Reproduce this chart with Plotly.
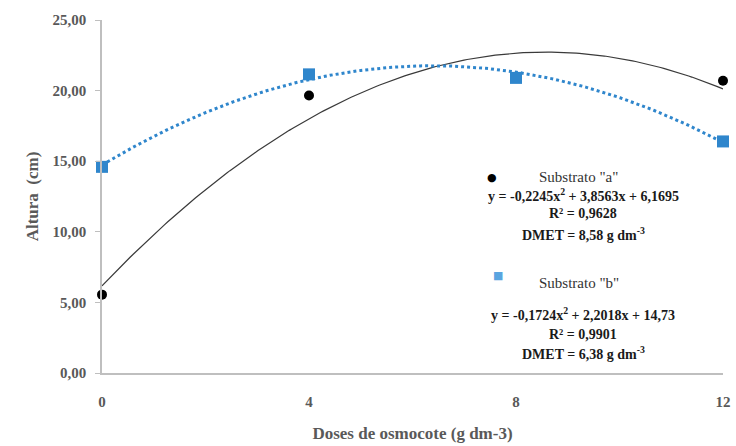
import numpy as np
import plotly.graph_objects as go

# Doses of osmocote (g dm-3)
doses = [0, 4, 8, 12]

# Mean plant height (cm) per substrate
altura_a = [5.55, 19.65, 20.95, 20.7]
altura_b = [14.6, 21.15, 20.9, 16.4]

# Quadratic fit coefficients (c2, c1, c0)
coef_a = [-0.2245, 3.8563, 6.1695]
coef_b = [-0.1724, 2.2018, 14.73]

y_ticks = [0, 5, 10, 15, 20, 25]
y_tick_labels = ["0,00", "5,00", "10,00", "15,00", "20,00", "25,00"]
x_ticks = [0, 4, 8, 12]

xs = np.linspace(0, 12, 200)
fit_a = np.polyval(coef_a, xs)
fit_b = np.polyval(coef_b, xs)

serif = "Liberation Serif"
gray = "#595959"
blue = "#2f86cc"

W, H = 736, 446
ML, MR, MT, MB = 102, 13, 20, 73
PW, PH = W - ML - MR, H - MT - MB


def px_to_paper(px, py):
    return (px - ML) / PW, (H - MB - py) / PH


fig = go.Figure()
fig.add_trace(go.Scatter(x=xs, y=fit_a, mode="lines",
                         line=dict(color="#3a3a3a", width=1.2), hoverinfo="skip"))
fig.add_trace(go.Scatter(x=xs, y=fit_b, mode="lines",
                         line=dict(color=blue, width=3, dash="dot"), hoverinfo="skip"))
fig.add_trace(go.Scatter(x=doses, y=altura_a, mode="markers", cliponaxis=False,
                         marker=dict(color="black", size=10, symbol="circle")))
fig.add_trace(go.Scatter(x=doses, y=altura_b, mode="markers", cliponaxis=False,
                         marker=dict(color=blue, size=12, symbol="square")))

notes = [
    (537, 177, 'Substrato "a"', "left", False),
    (583, 195, "y = -0,2245x<sup>2</sup> + 3,8563x + 6,1695", "center", True),
    (583, 214, "R² = 0,9628", "center", True),
    (583, 234, "DMET = 8,58 g dm<sup>-3</sup>", "center", True),
    (537, 283, 'Substrato "b"', "left", False),
    (583, 314, "y = -0,1724x<sup>2</sup> + 2,2018x + 14,73", "center", True),
    (583, 334, "R² = 0,9901", "center", True),
    (583, 353, "DMET = 6,38 g dm<sup>-3</sup>", "center", True),
]
annotations = []
for px, py, txt, anchor, bold in notes:
    ax, ay = px_to_paper(px, py)
    annotations.append(dict(
        x=ax, y=ay, xref="paper", yref="paper",
        xanchor=anchor, yanchor="middle", showarrow=False,
        text=f"<b>{txt}</b>" if bold else txt,
        font=dict(family=serif, size=14 if bold else 15,
                  color="#1a1a1a" if bold else "#333333"),
    ))
# Legend markers
for px, py, sym, size, col in [(492, 177, "●", 11, "black"), (498, 284, "■", 11, "#5aa5e0")]:
    ax, ay = px_to_paper(px, py)
    annotations.append(dict(x=ax, y=ay, xref="paper", yref="paper", showarrow=False,
                            text=sym, font=dict(family="DejaVu Sans", size=size, color=col)))

fig.update_layout(
    width=W, height=H,
    margin=dict(l=ML, r=MR, t=MT, b=MB),
    plot_bgcolor="white", paper_bgcolor="white",
    showlegend=False,
    annotations=annotations,
    xaxis=dict(range=[0, 12], tickvals=x_ticks, ticktext=[f"<b>{t}</b>" for t in x_ticks],
               ticks="", showgrid=False, zeroline=False, ticklabelstandoff=14,
               automargin=False,
               showline=True, linecolor="#bfbfbf", linewidth=1.5,
               tickfont=dict(family=serif, size=15, color=gray),
               title=dict(text="<b>Doses de osmocote (g dm-3)</b>", standoff=18,
                          font=dict(family=serif, size=17, color=gray))),
    yaxis=dict(range=[0, 25], tickvals=y_ticks, ticktext=[f"<b>{t}</b>" for t in y_tick_labels],
               ticks="outside", ticklen=5, tickcolor="#bfbfbf", showgrid=False, zeroline=False,
               showline=True, linecolor="#bfbfbf", linewidth=1.5, ticklabelstandoff=6,
               automargin=False,
               tickfont=dict(family=serif, size=15, color=gray),
               title=dict(text="<b>Altura  (cm)</b>", standoff=10,
                          font=dict(family=serif, size=17, color=gray))),
)

fig.write_html("out.html")
